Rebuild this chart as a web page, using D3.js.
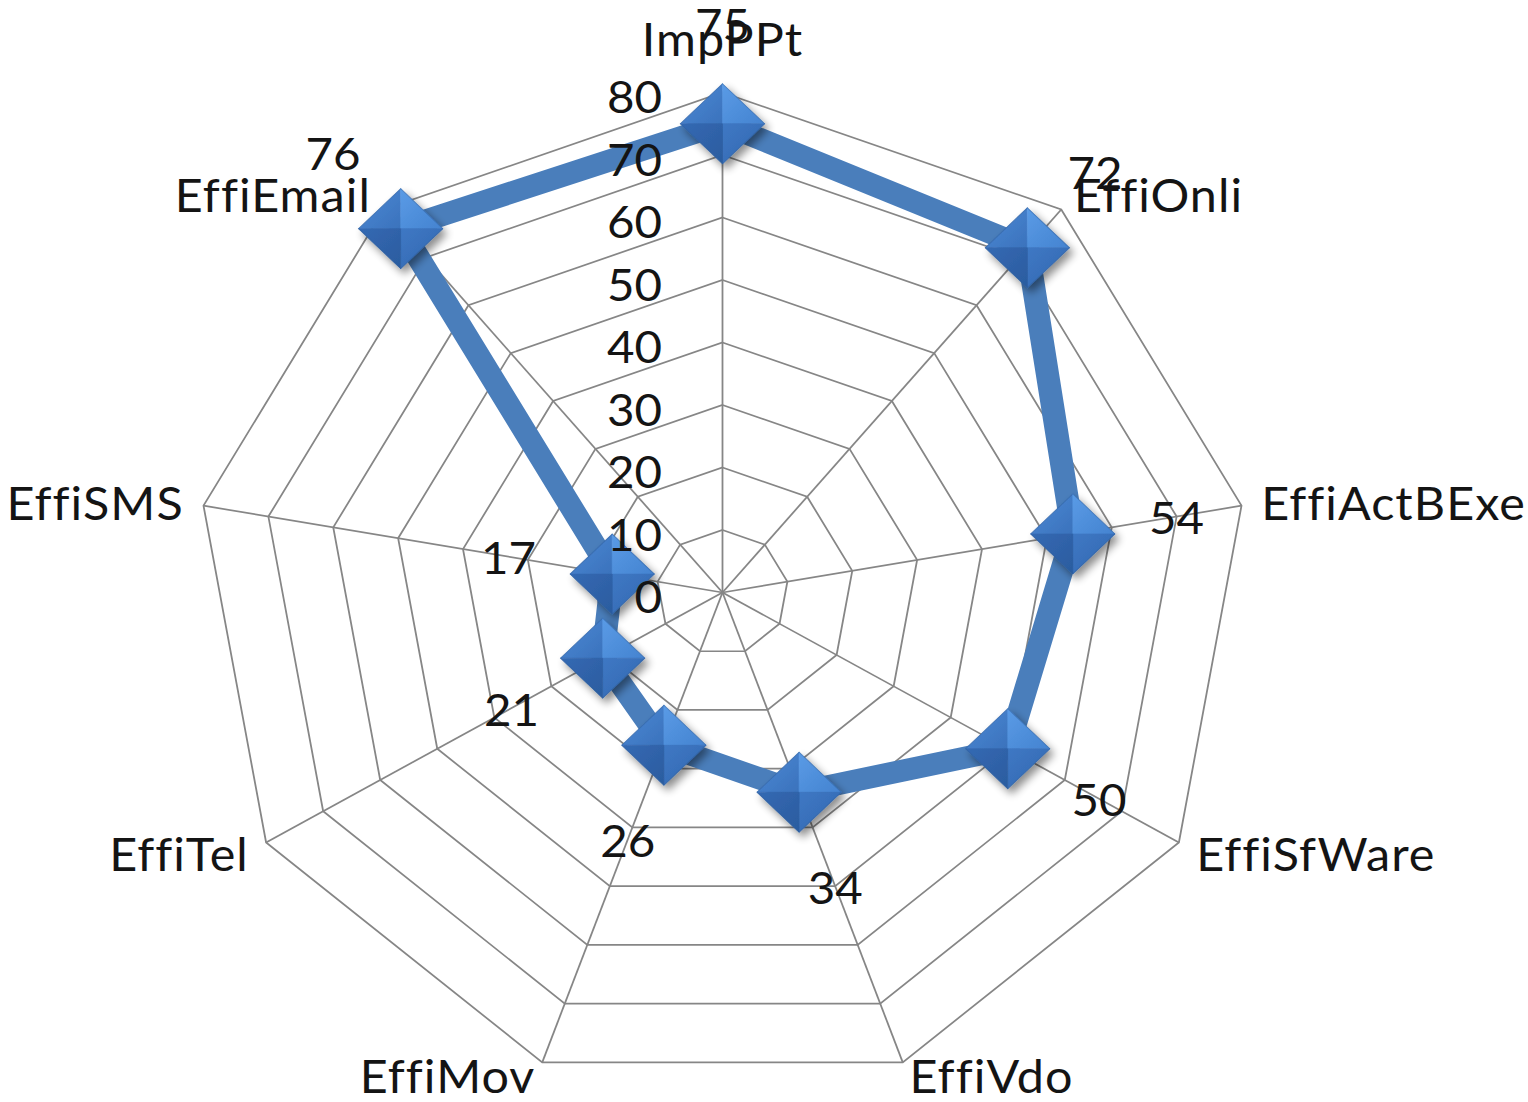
<!DOCTYPE html>
<html>
<head>
<meta charset="utf-8">
<script src="https://cdn.jsdelivr.net/npm/d3@7"></script>
<style>
  html, body { margin: 0; padding: 0; background: #fff; }
  svg { display: block; }
  text {
    font-family: "Lato", "Open Sans", sans-serif;
    fill: #141414;
    font-variant-ligatures: none;
    font-feature-settings: "liga" 0, "clig" 0;
  }
</style>
</head>
<body>
<svg id="chart" width="1528" height="1102"></svg>
<script>
// Radar axes, clockwise from the top
const categories = ["ImpPPt", "EffiOnli", "EffiActBExe", "EffiSfWare", "EffiVdo",
                    "EffiMov", "EffiTel", "EffiSMS", "EffiEmail"];
// Score per axis
const values = [75, 72, 54, 50, 34, 26, 21, 17, 76];
// Radial axis ticks
const tickValues = [0, 10, 20, 30, 40, 50, 60, 70, 80];

const cx = 722.5, cy = 592.5;
const stretchX = 1.054;          // plot area is slightly wider than tall
const outerR = 500;
const fontSize = 45;
const catFontSize = 46;
const lineColor = "#4A7EBB";

const svg = d3.select("#chart");

const r = d3.scaleLinear().domain([0, 80]).range([0, outerR]);
const angle = d3.scaleLinear().domain([0, categories.length]).range([0, 2 * Math.PI]);

const pt = (v, i) => [r(v) * Math.sin(angle(i)), -r(v) * Math.cos(angle(i))];

// ---- defs: marker shadow ----
const defs = svg.append("defs");
const shadow = defs.append("filter").attr("id", "mshadow")
  .attr("x", "-50%").attr("y", "-50%").attr("width", "200%").attr("height", "200%");
shadow.append("feGaussianBlur").attr("in", "SourceAlpha").attr("stdDeviation", 4).attr("result", "b");
shadow.append("feOffset").attr("in", "b").attr("dx", 4).attr("dy", 5).attr("result", "o");
shadow.append("feComponentTransfer").attr("in", "o").attr("result", "s")
  .append("feFuncA").attr("type", "linear").attr("slope", 0.45);
const merge = shadow.append("feMerge");
merge.append("feMergeNode").attr("in", "s");
merge.append("feMergeNode").attr("in", "SourceGraphic");

// facet gradients for the bevelled diamond markers
const facets = [
  { id: "fTL", c0: "#4E8AD6", c1: "#3A72BC" },
  { id: "fTR", c0: "#5A9BE6", c1: "#4483D0" },
  { id: "fBR", c0: "#3E78C4", c1: "#3367B0" },
  { id: "fBL", c0: "#3469B3", c1: "#2B5C9F" }
];
facets.forEach(f => {
  const g = defs.append("linearGradient").attr("id", f.id)
    .attr("x1", "0%").attr("y1", "0%").attr("x2", "100%").attr("y2", "100%");
  g.append("stop").attr("offset", "0%").attr("stop-color", f.c0);
  g.append("stop").attr("offset", "100%").attr("stop-color", f.c1);
});

const plot = svg.append("g")
  .attr("transform", `translate(${cx},${cy}) scale(${stretchX},1)`);

// ---- grid rings ----
const ring = d3.line().curve(d3.curveLinearClosed);
plot.append("g").selectAll("path")
  .data(tickValues.filter(t => t > 0))
  .join("path")
  .attr("d", t => ring(categories.map((c, i) => pt(t, i))))
  .attr("fill", "none")
  .attr("stroke", "#868686")
  .attr("stroke-width", 1.7);

// ---- spokes ----
plot.append("g").selectAll("line")
  .data(categories)
  .join("line")
  .attr("x1", 0).attr("y1", 0)
  .attr("x2", (c, i) => pt(80, i)[0])
  .attr("y2", (c, i) => pt(80, i)[1])
  .attr("stroke", "#868686")
  .attr("stroke-width", 1.7);

// ---- category labels ----
plot.append("g").selectAll("text")
  .data(categories)
  .join("text")
  .attr("font-size", catFontSize)
  .attr("letter-spacing", 1.0)
  .attr("dominant-baseline", "central")
  .attr("text-anchor", (c, i) => {
    const s = Math.sin(angle(i));
    return Math.abs(s) < 0.01 ? "middle" : (s > 0 ? "start" : "end");
  })
  .attr("x", (c, i) => {
    const [x] = pt(80, i);
    return x + 19 * Math.sin(angle(i));
  })
  .attr("y", (c, i) => {
    const [, y] = pt(80, i);
    const cs = Math.cos(angle(i));
    const d = cs > 0.99 ? 55 : (cs < -0.9 ? 14 : 20);
    return y - d * cs;
  })
  .text(c => c);

// ---- data line ----
plot.append("path")
  .datum(values)
  .attr("d", ring(values.map((v, i) => pt(v, i))))
  .attr("fill", "none")
  .attr("stroke", lineColor)
  .attr("stroke-width", 22)
  .attr("stroke-linejoin", "round");

// ---- diamond markers ----
const h = 40;
const markers = plot.append("g").selectAll("g")
  .data(values)
  .join("g")
  .attr("transform", (v, i) => `translate(${pt(v, i)[0]},${pt(v, i)[1]})`)
  .attr("filter", "url(#mshadow)");

const faces = [
  { id: "fTL", p: [[0, -h], [-h, 0], [0, 0]] },
  { id: "fTR", p: [[0, -h], [h, 0], [0, 0]] },
  { id: "fBR", p: [[h, 0], [0, h], [0, 0]] },
  { id: "fBL", p: [[0, h], [-h, 0], [0, 0]] }
];
markers.each(function() {
  const g = d3.select(this);
  faces.forEach(f => {
    g.append("path")
      .attr("d", "M" + f.p.map(q => q.join(",")).join("L") + "Z")
      .attr("fill", `url(#${f.id})`)
      .attr("stroke", `url(#${f.id})`)
      .attr("stroke-width", 0.6);
  });
  g.append("path")
    .attr("d", `M0,${-h}L${h},0L0,${h}L${-h},0Z`)
    .attr("fill", "none")
    .attr("stroke", "#2f5f9e")
    .attr("stroke-opacity", 0.5)
    .attr("stroke-width", 1);
});

// ---- radial tick labels (drawn over the series) ----
plot.append("g").selectAll("text")
  .data(tickValues)
  .join("text")
  .attr("x", -57.5)
  .attr("y", t => -r(t) + 3)
  .attr("text-anchor", "end")
  .attr("dominant-baseline", "central")
  .attr("font-size", fontSize)
  .text(t => t);

// ---- value labels ----
plot.append("g").selectAll("text")
  .data(values)
  .join("text")
  .attr("font-size", fontSize)
  .attr("text-anchor", "middle")
  .attr("dominant-baseline", "central")
  .attr("x", (v, i) => pt(v, i)[0] + 100 * Math.sin(angle(i)))
  .attr("y", (v, i) => pt(v, i)[1] - 100 * Math.cos(angle(i)))
  .text(v => v);
</script>
</body>
</html>
